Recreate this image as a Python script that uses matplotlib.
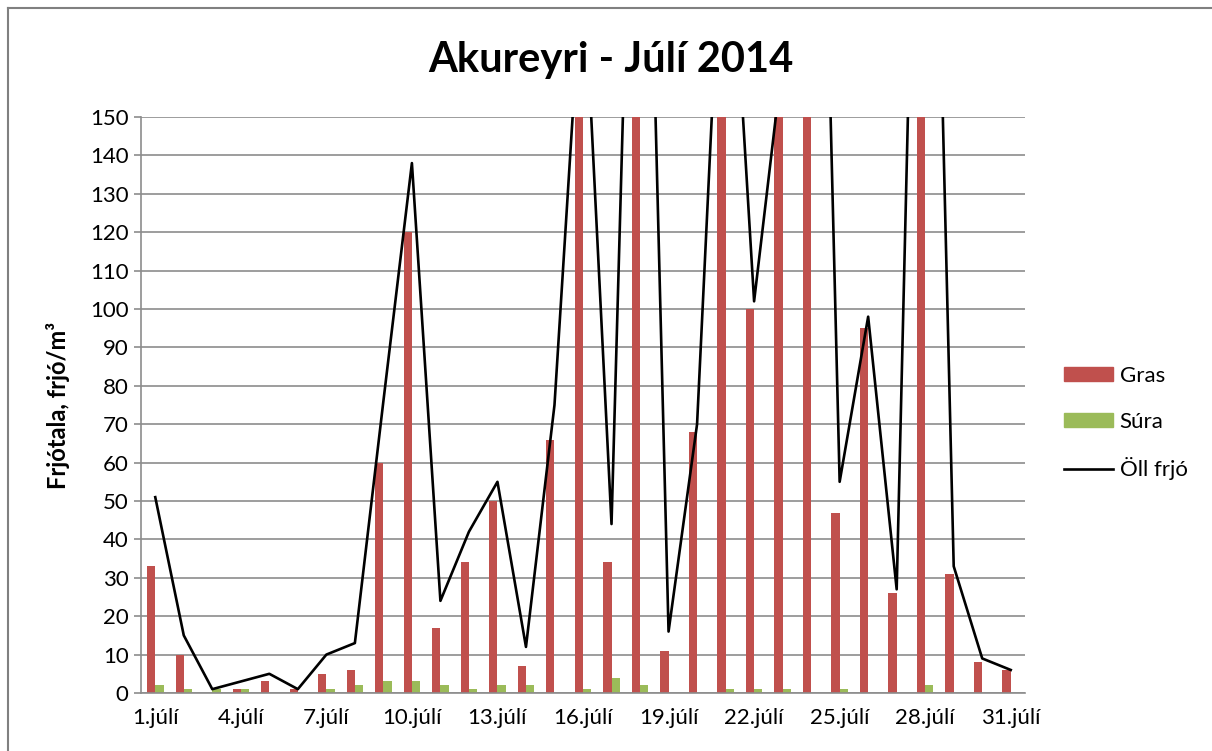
import numpy as np
import matplotlib.pyplot as plt
from matplotlib.patches import Patch
from matplotlib.lines import Line2D

plt.rcParams['font.family'] = ['Lato', 'DejaVu Sans']

# Daily pollen counts, Akureyri, July 2014 (values above 150 are cut off by the axis)
days = np.arange(1, 32)
gras = [33, 10, 0, 1, 3, 1, 5, 6, 60, 120, 17, 34, 50, 7, 66, 192,
        34, 308, 11, 68, 224, 100, 164, 355, 47, 95, 26, 338, 31, 8, 6]
sura = [2, 1, 1, 1, 0, 0, 1, 2, 3, 3, 2, 1, 2, 2, 0, 1,
        4, 2, 0, 0, 1, 1, 1, 0, 1, 0, 0, 2, 0, 0, 0]
oll = [51, 15, 1, 3, 5, 1, 10, 13, 76, 138, 24, 42, 55, 12, 75, 193,
       44, 310, 16, 70, 225, 102, 165, 355, 55, 98, 27, 340, 33, 9, 6]
xtick_days = [1, 4, 7, 10, 13, 16, 19, 22, 25, 28, 31]
xtick_labels = ["%d.júlí" % d for d in xtick_days]

red = "#C0504D"
green = "#9BBB59"
grid = "#8C8C8C"

W, H = 1212, 751
fig = plt.figure(figsize=(W / 100, H / 100), dpi=100)

# outer chart frame: only left and top edges show in the reference
fx, fy = 8 / W, 1 - 8 / H
fig.add_artist(Line2D([fx, fx], [0, fy], transform=fig.transFigure,
                      color="#808080", linewidth=1.5))
fig.add_artist(Line2D([fx, 1], [fy, fy], transform=fig.transFigure,
                      color="#808080", linewidth=1.5))

ax = fig.add_axes([141 / W, (H - 693) / H, 884 / W, 576 / H])

bw = 0.29
ax.bar(days - bw / 2, gras, width=bw, color=red, zorder=2)
ax.bar(days + bw / 2, sura, width=bw, color=green, zorder=2)
ax.plot(days, oll, color="black", linewidth=1.9, zorder=3)

ax.set_xlim(0.5, 31.5)
ax.set_ylim(0, 150)
ax.set_yticks(np.arange(0, 151, 10))
ax.set_xticks(xtick_days)
ax.set_xticklabels(xtick_labels)
ax.yaxis.grid(True, color=grid, linewidth=1.2, zorder=0)
ax.set_axisbelow(True)

for s in ["top", "right"]:
    ax.spines[s].set_visible(False)
for s in ["left", "bottom"]:
    ax.spines[s].set_color(grid)
    ax.spines[s].set_linewidth(1.2)

ax.tick_params(axis="y", length=5, color=grid, width=1.2, labelsize=16, pad=4)
ax.tick_params(axis="x", length=0, labelsize=16, pad=11)

ax.set_ylabel("Frjótala, frjó/m³", fontsize=17, fontweight="bold", labelpad=14)

fig.text(611 / W, 1 - 60 / H, "Akureyri - Júlí 2014", fontsize=30,
         fontweight="bold", ha="center", va="center")

handles = [Patch(color=red), Patch(color=green), Line2D([], [], color="black", linewidth=1.9)]
fig.legend(handles, ["Gras", "Súra", "Öll frjó"], loc="center left",
           bbox_to_anchor=(1064 / W, 1 - 423 / H), frameon=False, fontsize=16,
           handlelength=2.2, handleheight=0.6, handletextpad=0.3,
           labelspacing=1.15, borderpad=0, borderaxespad=0)

fig.savefig("out.png", dpi=100)
